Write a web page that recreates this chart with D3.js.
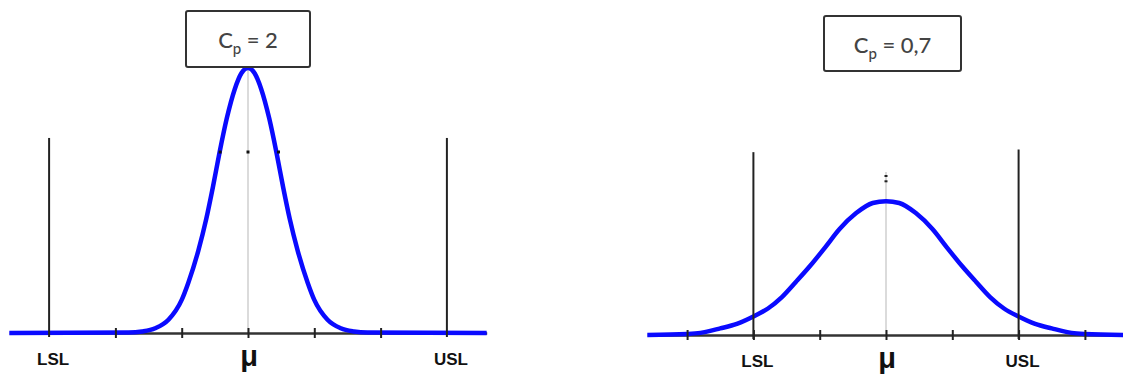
<!DOCTYPE html>
<html>
<head>
<meta charset="utf-8">
<script src="https://cdn.jsdelivr.net/npm/d3@7"></script>
<style>
  html, body { margin: 0; padding: 0; background: #fff; }
  svg { display: block; }
</style>
</head>
<body>
<svg id="chart" width="1123" height="376"></svg>
<script>
// ---------- data (x in tick units around the mean, y in relative density) ----------
const panels = ["Cp = 2", "Cp = 0,7"];
const cpLabels = [{ main: "C", sub: "p", rest: " = 2" }, { main: "C", sub: "p", rest: " = 0,7" }];

const curveX_cp2 = [-3.6, -1.8, -1.6, -1.4, -1.2, -1.0, -0.9, -0.75, -0.63, -0.53, -0.43, -0.32, -0.2, -0.1, 0, 0.1, 0.2, 0.32, 0.43, 0.53, 0.63, 0.75, 0.9, 1.0, 1.2, 1.4, 1.6, 1.8, 3.6];
const curveY_cp2 = [0, 0.002, 0.006, 0.018, 0.05, 0.125, 0.19, 0.31, 0.43, 0.55, 0.68, 0.81, 0.92, 0.98, 1.0, 0.98, 0.92, 0.81, 0.68, 0.55, 0.43, 0.31, 0.19, 0.125, 0.05, 0.018, 0.006, 0.002, 0];

const curveX_cp07 = [-3.6, -3.0, -2.8, -2.5, -2.25, -2.0, -1.78, -1.57, -1.36, -1.14, -0.92, -0.7, -0.45, -0.2, 0, 0.2, 0.45, 0.7, 0.92, 1.14, 1.36, 1.57, 1.78, 2.0, 2.25, 2.5, 2.8, 3.0, 3.6];
const curveY_cp07 = [0, 0.004, 0.008, 0.025, 0.042, 0.07, 0.1, 0.143, 0.2, 0.262, 0.33, 0.40, 0.46, 0.498, 0.505, 0.498, 0.46, 0.40, 0.33, 0.262, 0.2, 0.143, 0.1, 0.07, 0.042, 0.025, 0.008, 0.004, 0];

const tickValues_cp2 = [-2, -1, 0, 1, 2];
const tickValues_cp07 = [-3, -2, -1, 0, 1, 2, 3];

const specNames = ["LSL", "μ", "USL"];
const specPos_cp2 = [-3, 0, 3];
const specPos_cp07 = [-2, 0, 2];
const specHeight_cp2 = [0.736, 0.736];   // LSL, USL line heights (relative)
const specHeight_cp07 = [0.69, 0.70];

// ---------- layout ----------
const svg = d3.select("#chart");
const tickPx = 66.3;
const layout = [
  { mu: 248, base: 333, box: { x: 186, y: 11, w: 124, h: 56 }, textY: 48, centerTop: 1.0 },
  { mu: 886, base: 335, box: { x: 824, y: 16, w: 137, h: 55 }, textY: 53, centerTop: 0.615 }
];
const datasets = [
  { cx: curveX_cp2, cy: curveY_cp2, ticks: tickValues_cp2, spec: specPos_cp2, specH: specHeight_cp2 },
  { cx: curveX_cp07, cy: curveY_cp07, ticks: tickValues_cp07, spec: specPos_cp07, specH: specHeight_cp07 }
];

datasets.forEach((ds, i) => {
  const L = layout[i];
  const x = d3.scaleLinear().domain([-3.6, 3.6]).range([L.mu - 3.6 * tickPx, L.mu + 3.6 * tickPx]);
  const y = d3.scaleLinear().domain([0, 1]).range([L.base, L.base - 265]);
  const g = svg.append("g");

  // gray centre line
  g.append("line")
    .attr("x1", x(0)).attr("x2", x(0))
    .attr("y1", y(L.centerTop)).attr("y2", y(0))
    .attr("stroke", "#cfcfcf").attr("stroke-width", 1.5);

  // axis line
  const axis = d3.axisBottom(x).tickValues(ds.ticks).tickFormat("").tickSizeOuter(0).tickSizeInner(5);
  const ax = g.append("g").attr("transform", `translate(0,${L.base})`).call(axis);
  ax.select(".domain").attr("stroke", "#333").attr("stroke-width", 2.5);
  ax.selectAll(".tick line").remove();

  // blue curve
  const pts = ds.cx.map((v, k) => [v, ds.cy[k]]);
  const line = d3.line().x(d => x(d[0])).y(d => y(d[1])).curve(d3.curveMonotoneX);
  g.append("path").datum(pts)
    .attr("d", line)
    .attr("fill", "none")
    .attr("stroke", "#0a0aff")
    .attr("stroke-width", 4.5)
    .attr("stroke-linejoin", "round");

  // ticks over the curve
  const ax2 = g.append("g").attr("transform", `translate(0,${L.base})`).call(axis);
  ax2.select(".domain").remove();
  ax2.selectAll(".tick line").attr("y1", -5).attr("y2", 5).attr("stroke", "#222").attr("stroke-width", 2);

  // spec limit lines
  [ds.spec[0], ds.spec[2]].forEach((s, k) => {
    g.append("line")
      .attr("x1", x(s)).attr("x2", x(s))
      .attr("y1", y(ds.specH[k])).attr("y2", y(0) + 4)
      .attr("stroke", "#222").attr("stroke-width", 2);
  });

  // little marks near the centre line
  if (i === 0) {
    [-0.42, 0, 0.46].forEach(v => {
      g.append("rect").attr("x", x(v) - 1.5).attr("y", y(0.683) - 1.5).attr("width", 3).attr("height", 3).attr("fill", "#111");
    });
  } else {
    [0.58, 0.6].forEach(v => {
      g.append("rect").attr("x", x(0) - 1.5).attr("y", y(v) - 1).attr("width", 3).attr("height", 2).attr("fill", "#222");
    });
  }

  // labels
  ds.spec.forEach((s, k) => {
    const isMu = specNames[k] === "μ";
    g.append("text")
      .attr("x", x(s) + (isMu ? 1 : 4))
      .attr("y", isMu ? L.base + 33 : L.base + 32)
      .attr("text-anchor", "middle")
      .attr("font-family", "Liberation Sans, Arial, sans-serif")
      .attr("font-weight", "bold")
      .attr("font-size", isMu ? 29 : 17)
      .attr("fill", "#111")
      .text(specNames[k]);
  });

  // Cp box
  g.append("rect")
    .attr("x", L.box.x).attr("y", L.box.y)
    .attr("width", L.box.w).attr("height", L.box.h)
    .attr("rx", 2)
    .attr("fill", "#fff")
    .attr("stroke", "#333").attr("stroke-width", 2);

  const t = g.append("text")
    .attr("x", L.box.x + L.box.w / 2)
    .attr("y", L.textY)
    .attr("text-anchor", "middle")
    .attr("font-family", "Lato, 'Open Sans', sans-serif")
    .attr("font-size", 22)
    .attr("font-weight", 500)
    .attr("fill", "#444");
  t.append("tspan").text(cpLabels[i].main);
  t.append("tspan").attr("font-size", 15).attr("dy", 6).text(cpLabels[i].sub);
  t.append("tspan").attr("dy", -6).text(cpLabels[i].rest);
});
</script>
</body>
</html>
